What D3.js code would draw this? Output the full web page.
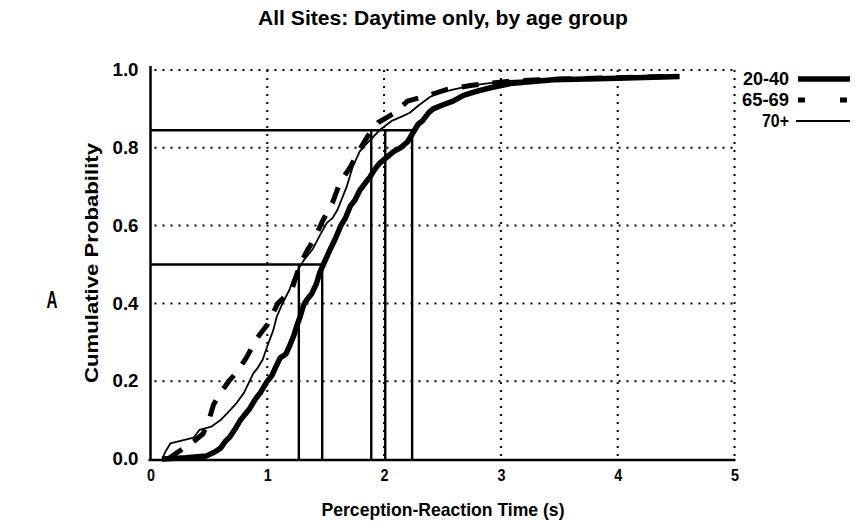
<!DOCTYPE html>
<html>
<head>
<meta charset="utf-8">
<script src="https://cdn.jsdelivr.net/npm/d3@7"></script>
<style>
  html, body { margin: 0; padding: 0; background: #fff; }
  svg { display: block; }
  text { font-family: "Liberation Sans", Arial, sans-serif; font-weight: bold; fill: #000; }
</style>
</head>
<body>
<svg id="chart" width="855" height="530"></svg>
<script>
// Cumulative distributions of perception-reaction time, by age group
const xTicks = [0, 1, 2, 3, 4, 5];
const yTicks = [0, 0.2, 0.4, 0.6, 0.8, 1.0];
const groups = ["20-40", "65-69", "70+"];

const prt2040 = [
  [0.10,0],[0.30,0.003],[0.48,0.008],[0.55,0.018],[0.60,0.028],[0.64,0.045],[0.68,0.057],
  [0.72,0.075],[0.77,0.10],[0.81,0.115],[0.85,0.13],[0.90,0.155],[0.94,0.17],[1.00,0.20],
  [1.04,0.215],[1.07,0.235],[1.11,0.26],[1.16,0.27],[1.19,0.29],[1.23,0.32],[1.25,0.34],
  [1.28,0.365],[1.31,0.395],[1.34,0.41],[1.38,0.425],[1.42,0.45],[1.45,0.48],[1.48,0.50],
  [1.54,0.54],[1.58,0.565],[1.63,0.60],[1.67,0.62],[1.71,0.65],[1.75,0.665],[1.79,0.69],
  [1.84,0.71],[1.88,0.725],[1.92,0.745],[1.96,0.76],[2.02,0.775],[2.08,0.79],[2.14,0.80],
  [2.20,0.815],[2.25,0.84],[2.29,0.86],[2.33,0.87],[2.38,0.89],[2.42,0.90],[2.50,0.91],
  [2.59,0.92],[2.68,0.935],[2.79,0.945],[2.92,0.955],[3.08,0.965],[3.25,0.97],[3.45,0.975],
  [4.00,0.979],[4.53,0.983]
];
const prt6569 = [
  [0.15,0],[0.22,0.015],[0.35,0.04],[0.45,0.065],[0.50,0.10],[0.54,0.14],[0.60,0.17],
  [0.67,0.20],[0.73,0.22],[0.82,0.26],[0.91,0.31],[1.00,0.345],[1.09,0.40],[1.21,0.435],
  [1.28,0.50],[1.34,0.535],[1.41,0.57],[1.47,0.61],[1.56,0.66],[1.62,0.71],[1.71,0.75],
  [1.78,0.79],[1.86,0.83],[1.95,0.865],[2.09,0.89],[2.20,0.92],[2.38,0.935],[2.54,0.95],
  [2.74,0.96],[2.88,0.965],[3.10,0.972],[3.50,0.977],[4.00,0.980],[4.50,0.984]
];
const prt70 = [
  [0.10,0],[0.13,0.02],[0.17,0.04],[0.37,0.055],[0.42,0.075],[0.52,0.083],[0.60,0.10],
  [0.68,0.125],[0.74,0.145],[0.80,0.17],[0.84,0.195],[0.88,0.22],[0.92,0.235],[0.96,0.255],
  [1.00,0.29],[1.05,0.33],[1.08,0.365],[1.13,0.40],[1.19,0.435],[1.22,0.46],[1.25,0.48],
  [1.31,0.51],[1.39,0.54],[1.45,0.575],[1.51,0.607],[1.56,0.62],[1.60,0.64],[1.64,0.67],
  [1.68,0.70],[1.73,0.75],[1.79,0.79],[1.88,0.82],[1.96,0.845],[2.07,0.87],[2.15,0.88],
  [2.22,0.89],[2.30,0.91],[2.39,0.93],[2.45,0.94],[2.60,0.95],[2.74,0.96],[3.05,0.972],
  [3.50,0.977],[4.00,0.980],[4.50,0.984]
];

// Percentile read-offs: 50th and 85th percentile times
const pctLevels = [0.5, 0.845];
const pct50Times = [1.27, 1.47];
const pct85Times = [1.89, 2.01, 2.24];

const svg = d3.select("#chart");
const x = d3.scaleLinear().domain([0, 5]).range([150.5, 734.5]);
const y = d3.scaleLinear().domain([0, 1]).range([459, 70]);

// fit a text element to a fixed width, like a condensed face
function fit(sel, width) {
  sel.attr("textLength", width).attr("lengthAdjust", "spacingAndGlyphs");
}

// dotted grid
const grid = svg.append("g").attr("stroke", "#000").attr("stroke-width", 2)
  .attr("stroke-dasharray", "2,6").attr("fill", "none");
grid.selectAll("line.gx").data(xTicks.filter(d => d > 0)).join("line")
  .attr("x1", d => x(d)).attr("x2", d => x(d)).attr("y1", y(1)).attr("y2", y(0));
grid.selectAll("line.gy").data(yTicks.filter(d => d > 0)).join("line")
  .attr("x1", x(0) + 4).attr("x2", x(5) + 4).attr("y1", d => y(d)).attr("y2", d => y(d));

// axes
const xAxis = svg.append("g").attr("transform", `translate(0,${y(0) + 1})`)
  .call(d3.axisBottom(x).tickValues(xTicks).tickSize(0).tickPadding(9).tickFormat(d3.format("d")));
xAxis.select(".domain").attr("stroke", "#000").attr("stroke-width", 2.5)
  .attr("d", `M${x(0) - 2},0H${x(5) + 1}`);
xAxis.selectAll("text").style("font-size", "17px").style("font-family", null).call(fit, 8);

const yAxis = svg.append("g").attr("transform", `translate(${x(0)},0)`)
  .call(d3.axisLeft(y).tickValues(yTicks).tickSize(0).tickPadding(12).tickFormat(d3.format(".1f")));
yAxis.select(".domain").attr("stroke", "#000").attr("stroke-width", 2.5)
  .attr("d", `M0,${y(1) - 4}V${y(0) + 2}`);
yAxis.selectAll("text").style("font-size", "18px").style("font-family", null).call(fit, 26);

// percentile reference lines
const refs = svg.append("g").attr("stroke", "#000").attr("stroke-width", 2.4).attr("fill", "none");
refs.append("line").attr("x1", x(0)).attr("x2", x(d3.max(pct50Times)))
  .attr("y1", y(pctLevels[0])).attr("y2", y(pctLevels[0]));
refs.append("line").attr("x1", x(0)).attr("x2", x(d3.max(pct85Times)))
  .attr("y1", y(pctLevels[1])).attr("y2", y(pctLevels[1]));
refs.selectAll("line.v50").data(pct50Times).join("line").attr("class", "v50")
  .attr("x1", d => x(d)).attr("x2", d => x(d)).attr("y1", y(0)).attr("y2", y(pctLevels[0]));
refs.selectAll("line.v85").data(pct85Times).join("line").attr("class", "v85")
  .attr("x1", d => x(d)).attr("x2", d => x(d)).attr("y1", y(0)).attr("y2", y(pctLevels[1]));

// curves
const line = d3.line().x(d => x(d[0])).y(d => y(d[1]));
const styles = [
  { data: prt2040, width: 5.5, dash: null },
  { data: prt6569, width: 5, dash: "17,14" },
  { data: prt70, width: 1.8, dash: null }
];
svg.append("g").selectAll("path").data(styles).join("path")
  .attr("d", d => line(d.data))
  .attr("fill", "none").attr("stroke", "#000")
  .attr("stroke-width", d => d.width)
  .attr("stroke-dasharray", d => d.dash)
  .attr("stroke-linejoin", "round");

// legend
const legendY = [79, 100, 121];
const legendW = [46, 47, 27];
const leg = svg.append("g");
leg.selectAll("text").data(groups).join("text")
  .attr("x", 789).attr("y", (d, i) => legendY[i]).attr("dy", "0.35em")
  .attr("text-anchor", "end").style("font-size", "18px").text(d => d)
  .attr("textLength", (d, i) => legendW[i]).attr("lengthAdjust", "spacingAndGlyphs");
leg.append("line").attr("x1", 798).attr("x2", 850).attr("y1", legendY[0]).attr("y2", legendY[0])
  .attr("stroke", "#000").attr("stroke-width", 5.5);
leg.append("line").attr("x1", 798).attr("x2", 850).attr("y1", legendY[1]).attr("y2", legendY[1])
  .attr("stroke", "#000").attr("stroke-width", 5).attr("stroke-dasharray", "7,35");
leg.append("line").attr("x1", 796).attr("x2", 850).attr("y1", legendY[2]).attr("y2", legendY[2])
  .attr("stroke", "#000").attr("stroke-width", 1.8);

// titles
svg.append("text").attr("x", 443).attr("y", 18).attr("dy", "0.35em").attr("text-anchor", "middle")
  .style("font-size", "21px").text("All Sites:  Daytime only, by age group").call(fit, 370);
svg.append("text").attr("x", 443).attr("y", 509).attr("dy", "0.35em").attr("text-anchor", "middle")
  .style("font-size", "19px").text("Perception-Reaction Time (s)").call(fit, 243);
svg.append("text").attr("transform", "translate(91,263) rotate(-90)").attr("dy", "0.35em")
  .attr("text-anchor", "middle").style("font-size", "19px").text("Cumulative Probability").call(fit, 240);
svg.append("text").attr("x", 52).attr("y", 300).attr("dy", "0.35em").attr("text-anchor", "middle")
  .style("font-size", "24px").text("A").call(fit, 11);
</script>
</body>
</html>
